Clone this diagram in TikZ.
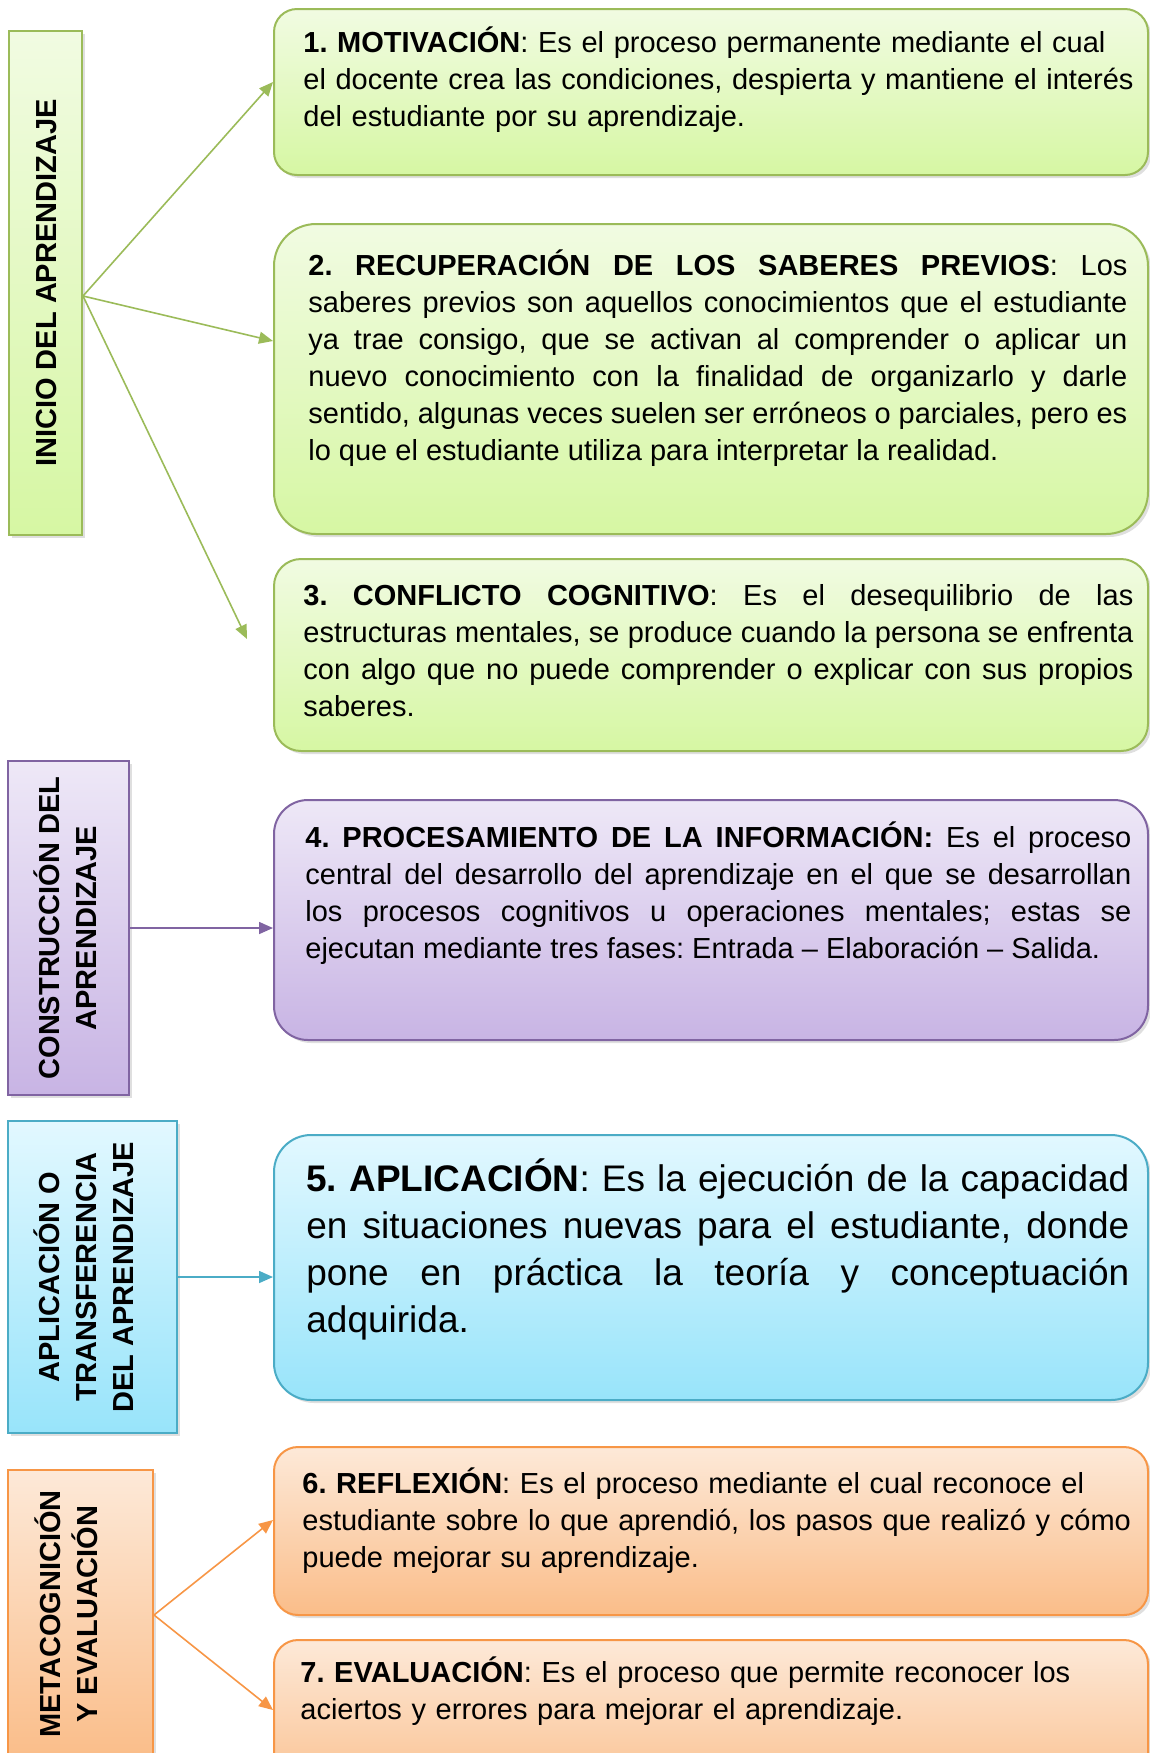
\documentclass[tikz,border=0pt]{standalone}
\usepackage{fontspec}
\setmainfont{Liberation Sans}
\usepackage{tikz}
\usetikzlibrary{math,calc,shadows,arrows.meta}

\definecolor{gline}{RGB}{155,187,89}
\definecolor{gtop}{RGB}{241,251,226}
\definecolor{gbot}{RGB}{214,247,163}
\definecolor{pline}{RGB}{128,100,162}
\definecolor{ptop}{RGB}{238,232,247}
\definecolor{pbot}{RGB}{200,180,228}
\definecolor{cline}{RGB}{75,172,198}
\definecolor{ctop}{RGB}{226,248,255}
\definecolor{cbot}{RGB}{152,228,250}
\definecolor{oline}{RGB}{247,150,70}
\definecolor{otop}{RGB}{253,233,216}
\definecolor{obot}{RGB}{250,189,137}

\frenchspacing
\hyphenpenalty=10000
\exhyphenpenalty=10000
\tolerance=10000

\tikzset{
  fase/.style={draw=#1line, line width=1pt, top color=#1top, bottom color=#1bot,
    drop shadow={shadow xshift=1.5pt, shadow yshift=-1.5pt, opacity=0.25}, inner sep=0pt},
  paso/.style={fase=#1},
  rot/.style={rotate=90, inner sep=0pt, align=center, font=\fontsize{14.5}{18.5}\selectfont\bfseries},
  txt/.style={anchor=base west, inner sep=0pt, align=left, text width=#1,
    font=\fontsize{14.5}{18.5}\selectfont},
  flecha/.style={draw=#1line, line width=0.8pt, -{Triangle[length=7pt, width=6pt]}},
}

\begin{document}
\begin{tikzpicture}[x=0.5pt, y=-0.5pt]
  \tikzmath{\bx = 711;}
  \useasboundingbox (0,0) rectangle (1150,1753);

  % inicio
  \node[fase=g, minimum width=36.5pt, minimum height=252pt] (inicio) at (45.5,283) {};
  \node[rot] (inicioT) at (47,283) {INICIO DEL APRENDIZAJE};

  \node[paso=g, rounded corners=11.5pt, minimum width=437pt, minimum height=83pt] (b1) at (\bx,92) {};
  \node[txt=440pt] (t1) at (303,52) {\textbf{1. MOTIVACIÓN}: Es el proceso permanente mediante el cual\\
    el docente crea las condiciones, despierta y mantiene el interés\\
    del estudiante por su aprendizaje.};

  \node[paso=g, rounded corners=21pt, minimum width=437pt, minimum height=155pt] (b2) at (\bx,379) {};
  \node[txt=409.5pt, align=justify] (t2) at (308,275) {\textbf{2. RECUPERACIÓN DE LOS SABERES PREVIOS}: Los\linebreak
    saberes previos son aquellos conocimientos que el estudiante\linebreak
    ya trae consigo, que se activan al comprender o aplicar un\linebreak
    nuevo conocimiento con la finalidad de organizarlo y darle\linebreak
    sentido, algunas veces suelen ser erróneos o parciales, pero es\linebreak
    lo que el estudiante utiliza para interpretar la realidad.};

  \node[paso=g, rounded corners=13.5pt, minimum width=437pt, minimum height=96pt] (b3) at (\bx,655) {};
  \node[txt=415pt, align=justify] (t3) at (303,605) {\textbf{3. CONFLICTO COGNITIVO}: Es el desequilibrio de las\linebreak
    estructuras mentales, se produce cuando la persona se enfrenta\linebreak
    con algo que no puede comprender o explicar con sus propios\linebreak
    saberes.};

  \draw[flecha=g] ($(inicio.east)+(0,13)$) -- ($(b1.west)+(0,-10)$);
  \draw[flecha=g] ($(inicio.east)+(0,13)$) -- ($(b2.west)+(0,-38)$);
  \draw[flecha=g] ($(inicio.east)+(0,13)$) -- ($(b3.west)+(-26,-16)$);

  % construccion
  \node[fase=p, minimum width=60.5pt, minimum height=167pt] (constr) at (68.5,928) {};
  \node[rot] (constrT) at (65,928) {CONSTRUCCIÓN DEL\\ APRENDIZAJE};

  \node[paso=p, rounded corners=17pt, minimum width=437pt, minimum height=120pt] (b4) at (\bx,920) {};
  \node[txt=413pt, align=justify] (t4) at (305,847) {\textbf{4. PROCESAMIENTO DE LA INFORMACIÓN:} Es el proceso\linebreak
    central del desarrollo del aprendizaje en el que se desarrollan\linebreak
    los procesos cognitivos u operaciones mentales; estas se\linebreak
    ejecutan mediante tres fases: Entrada – Elaboración – Salida.};

  \draw[flecha=p] (constr.east) -- (constr.east -| b4.west);

  % aplicacion
  \node[fase=c, minimum width=84.5pt, minimum height=156pt] (aplic) at (92.5,1277) {};
  \node[rot] (aplicT) at (84,1277) {APLICACIÓN O\\ TRANSFERENCIA\\ DEL APRENDIZAJE};

  \node[paso=c, rounded corners=18.5pt, minimum width=437pt, minimum height=132.5pt] (b5) at (\bx,1267.5) {};
  \node[txt=411.5pt, align=justify, font=\fontsize{18.5}{23.5}\selectfont] (t5) at (306,1191) {\textbf{5. APLICACIÓN}: Es la ejecución de la capacidad\linebreak
    en situaciones nuevas para el estudiante, donde\linebreak
    pone en práctica la teoría y conceptuación\linebreak
    adquirida.};

  \draw[flecha=c] (aplic.east) -- (aplic.east -| b5.west);

  % metacognicion
  \node[fase=o, minimum width=72.5pt, minimum height=145pt] (meta) at (80.5,1615) {};
  \node[rot] (metaT) at (66,1614) {METACOGNICIÓN\\ Y EVALUACIÓN};

  \node[paso=o, rounded corners=12pt, minimum width=437pt, minimum height=84pt] (b6) at (\bx,1531) {};
  \node[txt=440pt] (t6) at (302,1493) {\textbf{6. REFLEXIÓN}: Es el proceso mediante el cual reconoce el\\
    estudiante sobre lo que aprendió, los pasos que realizó y cómo\\
    puede mejorar su aprendizaje.};

  \node[paso=o, rounded corners=12pt, minimum width=437pt, minimum height=84pt] (b7) at (\bx,1724) {};
  \node[txt=440pt] (t7) at (300,1682) {\textbf{7. EVALUACIÓN}: Es el proceso que permite reconocer los\\
    aciertos y errores para mejorar el aprendizaje.};

  \draw[flecha=o] (meta.east) -- ($(b6.west)+(0,-11)$);
  \draw[flecha=o] (meta.east) -- ($(b7.west)+(0,-14)$);

\end{tikzpicture}
\end{document}
